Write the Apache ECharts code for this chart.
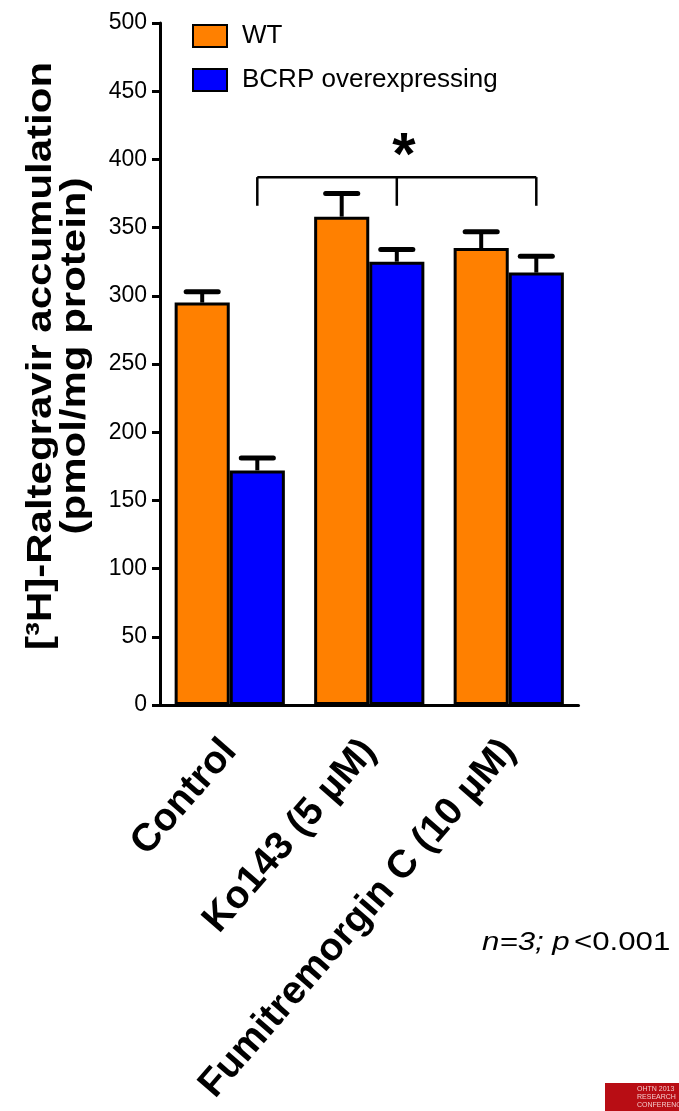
<!DOCTYPE html>
<html>
<head>
<meta charset="utf-8">
<script src="https://cdn.jsdelivr.net/npm/echarts@6/dist/echarts.min.js"></script>
<style>
  html, body { margin: 0; padding: 0; background: #fff; }
  #chart { width: 679px; height: 1111px; }
</style>
</head>
<body>
<div id="chart"></div>
<script>
// Treatment groups on the x axis
const categories = ['Control', 'Ko143 (5 µM)', 'Fumitremorgin C (10 µM)'];
const seriesNames = ['WT', 'BCRP overexpressing'];

// Mean accumulation (pmol/mg protein) and SEM for each cell line
const wtValues = [295, 358, 335];
const wtErrors = [8, 17, 12];
const bcrpValues = [172, 325, 317];
const bcrpErrors = [9, 9, 12];

// Value axis range and tick step
const yMin = 0;
const yMax = 500;
const yStep = 50;

// Significance bracket joining the BCRP bars of these groups
const bracketGroups = [0, 1, 2];
const bracketTop = 387;
const bracketLegEnd = 366;
const bracketMark = '*';

const FONT = '"Liberation Sans", Arial, sans-serif';
const BAR_GAP = 0.21;                       // barCategoryGap as a fraction
const BAR_OFFSET = (1 - BAR_GAP) / 4;       // centre of each bar from band centre

function errorBars(side) {
  return function (params, api) {
    const i = api.value(0);
    const v = api.value(1);
    const e = api.value(2);
    const band = api.size([1, 0])[0];
    const x = api.coord([i, v])[0] + side * band * BAR_OFFSET;
    const yBase = api.coord([i, v])[1];
    const yTop = api.coord([i, v + e])[1];
    const cap = band * 0.115;
    return {
      type: 'group',
      children: [
        { type: 'line', shape: { x1: x, y1: yBase, x2: x, y2: yTop },
          style: { stroke: '#000', lineWidth: 4 } },
        { type: 'line', shape: { x1: x - cap, y1: yTop, x2: x + cap, y2: yTop },
          style: { stroke: '#000', lineWidth: 5, lineCap: 'round' } }
      ]
    };
  };
}

function bracket(params, api) {
  const band = api.size([1, 0])[0];
  const xs = bracketGroups.map(g => api.coord([g, bracketTop])[0] + band * BAR_OFFSET);
  const yTop = api.coord([0, bracketTop])[1];
  const yLeg = api.coord([0, bracketLegEnd])[1];
  const children = [
    { type: 'line', shape: { x1: xs[0], y1: yTop, x2: xs[xs.length - 1], y2: yTop },
      style: { stroke: '#000', lineWidth: 2.5 } }
  ];
  xs.forEach(x => children.push({
    type: 'line', shape: { x1: x, y1: yTop, x2: x, y2: yLeg },
    style: { stroke: '#000', lineWidth: 2.5 }
  }));
  const mid = xs[Math.floor(xs.length / 2)];
  children.push({
    type: 'text', x: mid + 7, y: yTop - 20,
    style: { text: bracketMark, font: 'bold 60px ' + FONT, fill: '#000',
             align: 'center', verticalAlign: 'middle' }
  });
  return { type: 'group', children: children };
}

const chart = echarts.init(document.getElementById('chart'));
chart.setOption({
  backgroundColor: '#fff',
  animation: false,
  grid: { left: 160, right: 100.5, top: 23, bottom: 406, containLabel: false, outerBoundsMode: 'none' },
  legend: {
    data: seriesNames,
    orient: 'vertical',
    left: 192,
    top: 23,
    padding: 0,
    itemWidth: 34,
    itemHeight: 22,
    itemGap: 18,
    icon: 'rect',
    textStyle: { fontSize: 26, color: '#000', fontFamily: FONT, padding: [0, 0, 0, 10] }
  },
  xAxis: {
    type: 'category',
    data: categories,
    axisLine: { lineStyle: { color: '#000', width: 3 } },
    axisTick: { alignWithLabel: true, length: 12, lineStyle: { color: '#000', width: 3 } },
    axisLabel: { interval: 0, rotate: 49, margin: 40, color: '#000', fontSize: 39,
                 fontWeight: 'bold', fontFamily: FONT }
  },
  yAxis: {
    type: 'value',
    min: yMin,
    max: yMax,
    interval: yStep,
    axisLine: { show: true, lineStyle: { color: '#000', width: 3 } },
    axisTick: { show: true, length: 8, lineStyle: { color: '#000', width: 3 } },
    axisLabel: { margin: 13, color: '#000', fontSize: 23, fontFamily: FONT },
    splitLine: { show: false }
  },
  series: [
    {
      name: seriesNames[0], type: 'bar', data: wtValues,
      barGap: '0%', barCategoryGap: (BAR_GAP * 100) + '%',
      itemStyle: { color: '#FF8000', borderColor: '#000', borderWidth: 3 }
    },
    {
      name: seriesNames[1], type: 'bar', data: bcrpValues,
      barGap: '0%', barCategoryGap: (BAR_GAP * 100) + '%',
      itemStyle: { color: '#0000FF', borderColor: '#000', borderWidth: 3 }
    },
    {
      type: 'custom', z: 5, silent: true,
      renderItem: errorBars(-1),
      encode: { x: 0, y: 1 },
      data: wtValues.map((v, i) => [i, v, wtErrors[i]])
    },
    {
      type: 'custom', z: 5, silent: true,
      renderItem: errorBars(1),
      encode: { x: 0, y: 1 },
      data: bcrpValues.map((v, i) => [i, v, bcrpErrors[i]])
    },
    {
      type: 'custom', z: 5, silent: true,
      renderItem: bracket,
      encode: { x: 0, y: 1 },
      data: [[bracketGroups[0], bracketTop]]
    }
  ],
  graphic: [
    {
      type: 'text', x: 58, y: 356, rotation: Math.PI / 2, scaleY: 0.84,
      style: {
        text: '[³H]-Raltegravir accumulation\n(pmol/mg protein)',
        font: 'bold 42px ' + FONT, fill: '#000',
        align: 'center', verticalAlign: 'middle', lineHeight: 41
      }
    },
    {
      type: 'text', x: 482, y: 943, scaleX: 1.25,
      style: {
        text: '{i|n=3; p} {n|<0.001}',
        align: 'left', verticalAlign: 'middle',
        rich: {
          i: { font: 'italic 25px ' + FONT, fill: '#000' },
          n: { font: '25px ' + FONT, fill: '#000' }
        }
      }
    },
    {
      type: 'group', x: 605, y: 1083,
      children: [
        { type: 'rect', shape: { x: 0, y: 0, width: 74, height: 28 }, style: { fill: '#B80D14' } },
        { type: 'text', x: 32, y: 2, style: { text: 'OHTN 2013\nRESEARCH\nCONFERENCE',
          font: '7px ' + FONT, fill: '#F3C9C9', lineHeight: 8 } }
      ]
    }
  ]
});
</script>
</body>
</html>
